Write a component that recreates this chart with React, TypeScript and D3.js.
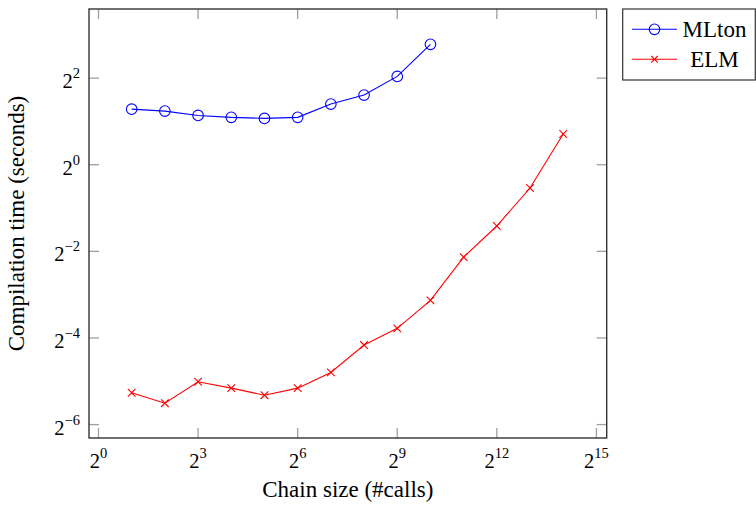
import React from "react";
import * as d3 from "d3";

const mltonSizes = [2, 4, 8, 16, 32, 64, 128, 256, 512, 1024];
const mltonTimes = [2.435, 2.36, 2.2, 2.135, 2.1, 2.135, 2.64, 3.05, 4.11, 6.87];
const elmSizes = [2, 4, 8, 16, 32, 64, 128, 256, 512, 1024, 2048, 4096, 8192, 16384];
const elmTimes = [0.026, 0.022, 0.031, 0.028, 0.025, 0.028, 0.036, 0.0558, 0.0729, 0.114, 0.228, 0.375, 0.689, 1.635];
const xTickExps = [0, 3, 6, 9, 12, 15];
const yTickExps = [-6, -4, -2, 0, 2];
const seriesNames = ["MLton", "ELM"];

const W = 756, H = 512;
const L = 89, R = 606.7, T = 9, B = 438;

export default function App() {
  const x = d3.scaleLog().base(2).domain([Math.pow(2, -0.286), Math.pow(2, 15.31)]).range([L, R]);
  const y = d3.scaleLog().base(2).domain([Math.pow(2, -6.31), Math.pow(2, 3.596)]).range([B, T]);
  const line = d3.line<[number, number]>().x(d => x(d[0])).y(d => y(d[1]));
  const mlton: [number, number][] = mltonSizes.map((s, i) => [s, mltonTimes[i]]);
  const elm: [number, number][] = elmSizes.map((s, i) => [s, elmTimes[i]]);
  const font = "'Liberation Serif', 'Times New Roman', serif";
  const tickCol = "#a0a0a0";
  const cross = (cx: number, cy: number, k: string, s = 3.8) => (
    <g key={k} stroke="#ff0000" strokeWidth={1.1}>
      <line x1={cx - s} y1={cy - s} x2={cx + s} y2={cy + s} />
      <line x1={cx - s} y1={cy + s} x2={cx + s} y2={cy - s} />
    </g>
  );
  return (
    <svg width={W} height={H} style={{ position: "absolute", left: 0, top: 0, background: "#fff" }} fontFamily={font}>
      {xTickExps.map(e => {
        const px = x(Math.pow(2, e));
        return (
          <g key={"xt" + e}>
            <line x1={px} x2={px} y1={B} y2={B - 10} stroke={tickCol} strokeWidth={1.3} />
            <line x1={px} x2={px} y1={T} y2={T + 10} stroke={tickCol} strokeWidth={1.3} />
            <text x={px} y={468} textAnchor="middle" fontSize={20.5}>
              <tspan>2</tspan>
              <tspan dy={-10} fontSize={14.5}>{e}</tspan>
            </text>
          </g>
        );
      })}
      {yTickExps.map(e => {
        const py = y(Math.pow(2, e));
        const lab = e < 0 ? "\u2212" + Math.abs(e) : String(e);
        return (
          <g key={"yt" + e}>
            <line x1={L} x2={L + 10} y1={py} y2={py} stroke={tickCol} strokeWidth={1.3} />
            <line x1={R} x2={R - 10} y1={py} y2={py} stroke={tickCol} strokeWidth={1.3} />
            <text x={80} y={py + 10} textAnchor="end" fontSize={20.5}>
              <tspan>2</tspan>
              <tspan dy={-10} fontSize={14.5}>{lab}</tspan>
            </text>
          </g>
        );
      })}
      <rect x={L} y={T} width={R - L} height={B - T} fill="none" stroke="#333" strokeWidth={1.4} />
      <path d={line(mlton) || ""} fill="none" stroke="#0000ff" strokeWidth={1.1} />
      {mlton.map((d, i) => (
        <circle key={"m" + i} cx={x(d[0])} cy={y(d[1])} r={5.3} fill="none" stroke="#0000ff" strokeWidth={1.1} />
      ))}
      <path d={line(elm) || ""} fill="none" stroke="#ff0000" strokeWidth={1.1} />
      {elm.map((d, i) => cross(x(d[0]), y(d[1]), "e" + i))}
      <text x={(L + R) / 2} y={497} textAnchor="middle" fontSize={23}>Chain size (#calls)</text>
      <text transform={`translate(24,${(T + B) / 2}) rotate(-90)`} textAnchor="middle" fontSize={23}>Compilation time (seconds)</text>
      <rect x={622.7} y={9} width={132.6} height={71} fill="#fff" stroke="#333" strokeWidth={1.2} />
      <line x1={632} x2={677} y1={29.3} y2={29.3} stroke="#0000ff" strokeWidth={1.1} />
      <circle cx={654.5} cy={29.3} r={5.3} fill="none" stroke="#0000ff" strokeWidth={1.1} />
      <text x={714.5} y={37} textAnchor="middle" fontSize={23}>{seriesNames[0]}</text>
      <line x1={632} x2={677} y1={59.3} y2={59.3} stroke="#ff0000" strokeWidth={1.1} />
      {cross(654.5, 59.3, "lg", 3.3)}
      <text x={714.5} y={67} textAnchor="middle" fontSize={23}>{seriesNames[1]}</text>
    </svg>
  );
}
